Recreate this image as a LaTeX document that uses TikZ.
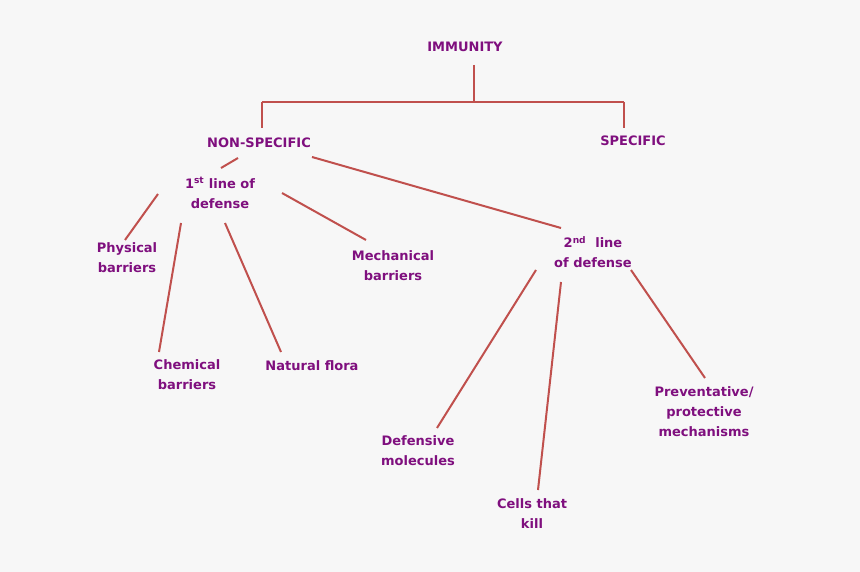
\documentclass[tikz,border=0pt]{standalone}
\usepackage{fontspec}
\setmainfont{DejaVu Sans}
\definecolor{txt}{HTML}{7F0F7E}
\definecolor{ln}{HTML}{C0504D}
\definecolor{bg}{HTML}{F7F7F7}
\begin{document}
\begin{tikzpicture}[x=1pt,y=-1pt,
  lab/.style={text=txt,font=\bfseries\fontsize{13}{20}\selectfont,align=center,inner sep=1pt},
  con/.style={draw=ln,line width=2pt}]
\fill[bg] (0,0) rectangle (860,572);
\useasboundingbox (0,0) rectangle (860,572);
\node[lab] (imm) at (465,47) {IMMUNITY};
\node[lab] (ns) at (259,143) {NON-SPECIFIC};
\node[lab] (sp) at (633,141) {SPECIFIC};
\node[lab] (l1) at (220,193) {1\textsuperscript{st} line of\\defense};
\node[lab] (phy) at (127,258) {Physical\\barriers};
\node[lab] (mech) at (393,266) {Mechanical\\barriers};
\node[lab] (l2) at (593,252) {2\textsuperscript{nd}\ \ line\\of defense};
\node[lab] (chem) at (187,375) {Chemical\\barriers};
\node[lab] (nat) at (312,366) {Natural flora};
\node[lab] (def) at (418,451) {Defensive\\molecules};
\node[lab] (cell) at (532,514) {Cells that\\kill};
\node[lab] (prev) at (704,412) {Preventative/\\protective\\mechanisms};
\coordinate (b) at (474,102);
\coordinate (bl) at (262,102);
\coordinate (br) at (624,102);
\draw[con] (474,65) -- (b);
\draw[con] (bl) -- (br);
\draw[con] (bl) -- (262,128);
\draw[con] (br) -- (624,128);
\draw[con] (238,158) -- (221,168);
\draw[con] (312,157) -- (561,228);
\draw[con] (158,194) -- (125,240);
\draw[con] (282,193) -- (366,240);
\draw[con] (181,223) -- (159,352);
\draw[con] (225,223) -- (281,352);
\draw[con] (536,270) -- (437,428);
\draw[con] (561,282) -- (538,490);
\draw[con] (631,270) -- (705,378);
\end{tikzpicture}
\end{document}
